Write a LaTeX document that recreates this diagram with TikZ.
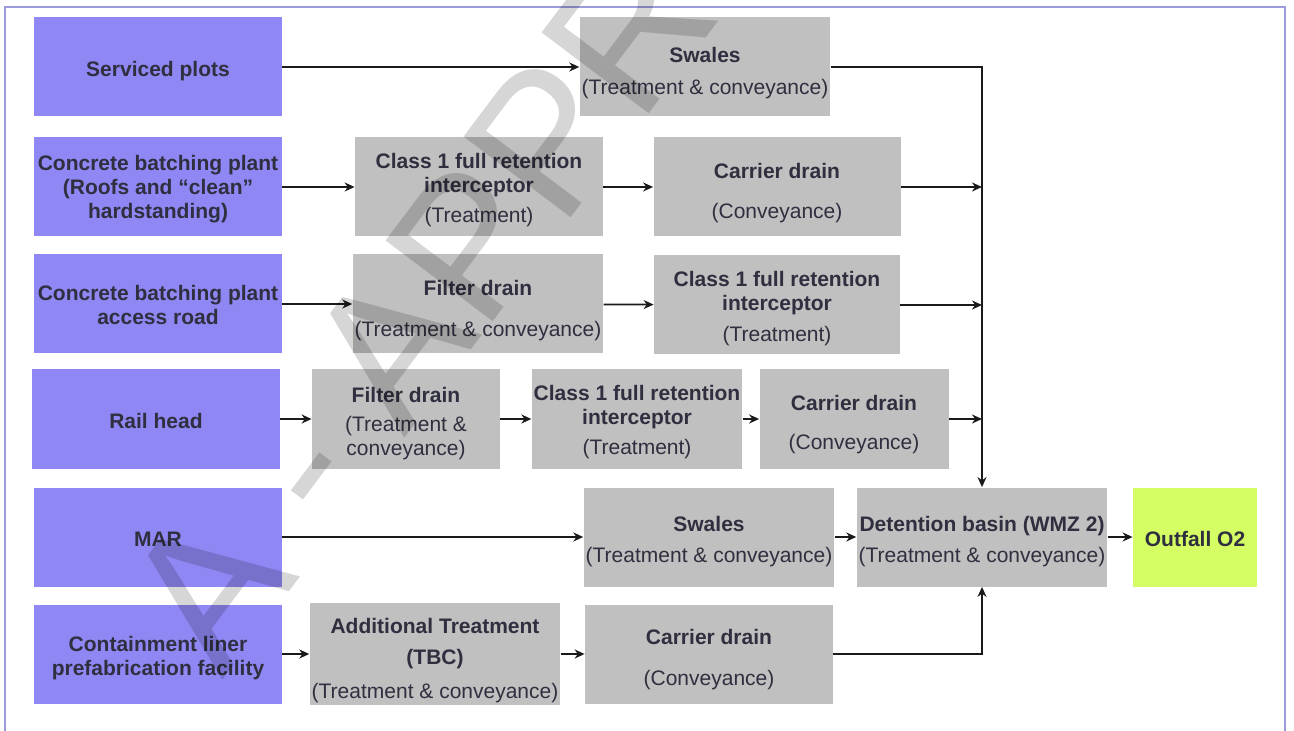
\documentclass[tikz,border=0pt]{standalone}
\usepackage{fontspec}
\setmainfont{Liberation Sans}
\usetikzlibrary{arrows.meta, positioning, calc}
\definecolor{srcpurple}{HTML}{8F87F3}
\definecolor{procgray}{HTML}{C0C0C0}
\definecolor{outgreen}{HTML}{D4FE64}
\definecolor{framecol}{HTML}{9C9CDC}
\definecolor{txtcol}{HTML}{2F2F3F}
\definecolor{linecol}{HTML}{1A1A1A}
\tikzstyle{arrow} = [->, >={Stealth[length=5pt,width=4.5pt]}, line width=0.9pt, draw=linecol]
% extra room above the first line, pushes a label down
\newcommand{\txtdrop}[1]{\rule{0pt}{\dimexpr7.6pt+#1pt\relax}}

\begin{document}
\begin{tikzpicture}[
    x=0.5pt, y=-0.5pt,
    box/.style={rectangle, inner sep=1pt, align=center, text=txtcol, font=\fontsize{10.5}{12}\selectfont, minimum height=49.5pt},
    srcbox/.style={box, fill=srcpurple, minimum width=124pt, font=\fontsize{10.5}{12}\selectfont\bfseries},
    procbox/.style={box, fill=procgray, minimum width=124pt},
    outbox/.style={box, fill=outgreen, minimum width=62pt, font=\fontsize{10.5}{12}\selectfont\bfseries},
    watermark/.style={text=black, opacity=0.16, font=\fontsize{97.5}{97.5}\selectfont, inner sep=0pt}
]
    \useasboundingbox (0,0) rectangle (1294,731);
    \draw[framecol, line width=1pt] (5,731) -- (5,7) -- (1285,7) -- (1285,731);

    % Sources
    \node[srcbox] (serviced) at (158,67) {\txtdrop{4}Serviced plots};
    \node[srcbox] (cbproofs) at (158,187) {\txtdrop{2}Concrete batching plant\\(Roofs and “clean”\\hardstanding)};
    \node[srcbox] (cbpaccess) at (158,304) {\txtdrop{1}Concrete batching plant\\access road};
    \node[srcbox] (railhead) at (156,419) {\txtdrop{2}Rail head};
    \node[srcbox] (mar) at (158,537) {\txtdrop{2}MAR};
    \node[srcbox] (liner) at (158,654) {\txtdrop{4}Containment liner\\prefabrication facility};

    % Row 1
    \node[procbox] (swalesA) at (705,67) {\txtdrop{6}\textbf{Swales}\\[4pt](Treatment \& conveyance)};

    % Row 2
    \node[procbox] (intA) at (479,187) {\txtdrop{3}\textbf{Class 1 full retention}\\\textbf{interceptor}\\[3pt](Treatment)};
    \node[procbox, minimum width=123.5pt] (carrierA) at (777,187) {\txtdrop{6}\textbf{Carrier drain}\\[8pt](Conveyance)};

    % Row 3
    \node[procbox] (filterB) at (478,304) {\txtdrop{7}\textbf{Filter drain}\\[8.5pt](Treatment \& conveyance)};
    \node[procbox, minimum width=123pt] (intB) at (777,305) {\txtdrop{4}\textbf{Class 1 full retention}\\\textbf{interceptor}\\[3.5pt](Treatment)};

    % Row 4
    \node[procbox, minimum width=94pt] (filterC) at (406,419) {\txtdrop{5}\textbf{Filter drain}\\[2.5pt](Treatment \&\\conveyance)};
    \node[procbox, minimum width=104pt] (intC) at (637,419) {\txtdrop{3}\textbf{Class 1 full retention}\\\textbf{interceptor}\\[3pt](Treatment)};
    \node[procbox, minimum width=94.5pt] (carrierC) at (854,419) {\txtdrop{6}\textbf{Carrier drain}\\[7.5pt](Conveyance)};

    % Row 5
    \node[procbox] (swalesD) at (709,537) {\txtdrop{5}\textbf{Swales}\\[3.5pt](Treatment \& conveyance)};
    \node[procbox] (basin) at (982,537) {\txtdrop{5}\textbf{Detention basin (WMZ 2)}\\[3.5pt](Treatment \& conveyance)};
    \node[outbox] (outfall) at (1195,537) {\txtdrop{2}Outfall O2};

    % Row 6
    \node[procbox, minimum width=123pt] (addtreat) at (435,654) {\txtdrop{7}\textbf{Additional Treatment}\\[3.5pt]\textbf{(TBC)}\\[5pt](Treatment \& conveyance)};
    \node[procbox] (carrierE) at (709,654) {\txtdrop{6}\textbf{Carrier drain}\\[8.5pt](Conveyance)};

    % Connections
    \draw[arrow] (serviced) -- (swalesA);
    \draw[arrow] (cbproofs) -- (intA);
    \draw[arrow] (intA) -- (carrierA);
    \draw[arrow] (carrierA) -- (carrierA -| basin);
    \draw[arrow] (cbpaccess) -- (filterB);
    \draw[arrow] (filterB) -- (intB);
    \draw[arrow] (intB) -- (intB -| basin);
    \draw[arrow] (railhead) -- (filterC);
    \draw[arrow] (filterC) -- (intC);
    \draw[arrow] (intC) -- (carrierC);
    \draw[arrow] (carrierC) -- (carrierC -| basin);
    \draw[arrow] (mar) -- (swalesD);
    \draw[arrow] (swalesD) -- (basin);
    \draw[arrow] (basin) -- (outfall);
    \draw[arrow] (liner) -- (addtreat);
    \draw[arrow] (addtreat) -- (carrierE);

    % Collectors into the basin
    \draw[arrow] (swalesA) -| (basin);
    \draw[arrow] (carrierE) -| (basin);

    % Watermark
    \begin{scope}
        \clip (0,0) rectangle (1294,731);
        \node[watermark, rotate=53, anchor=base west] (wmark) at (222,681) {A - APPRO};
    \end{scope}
\end{tikzpicture}
\end{document}
